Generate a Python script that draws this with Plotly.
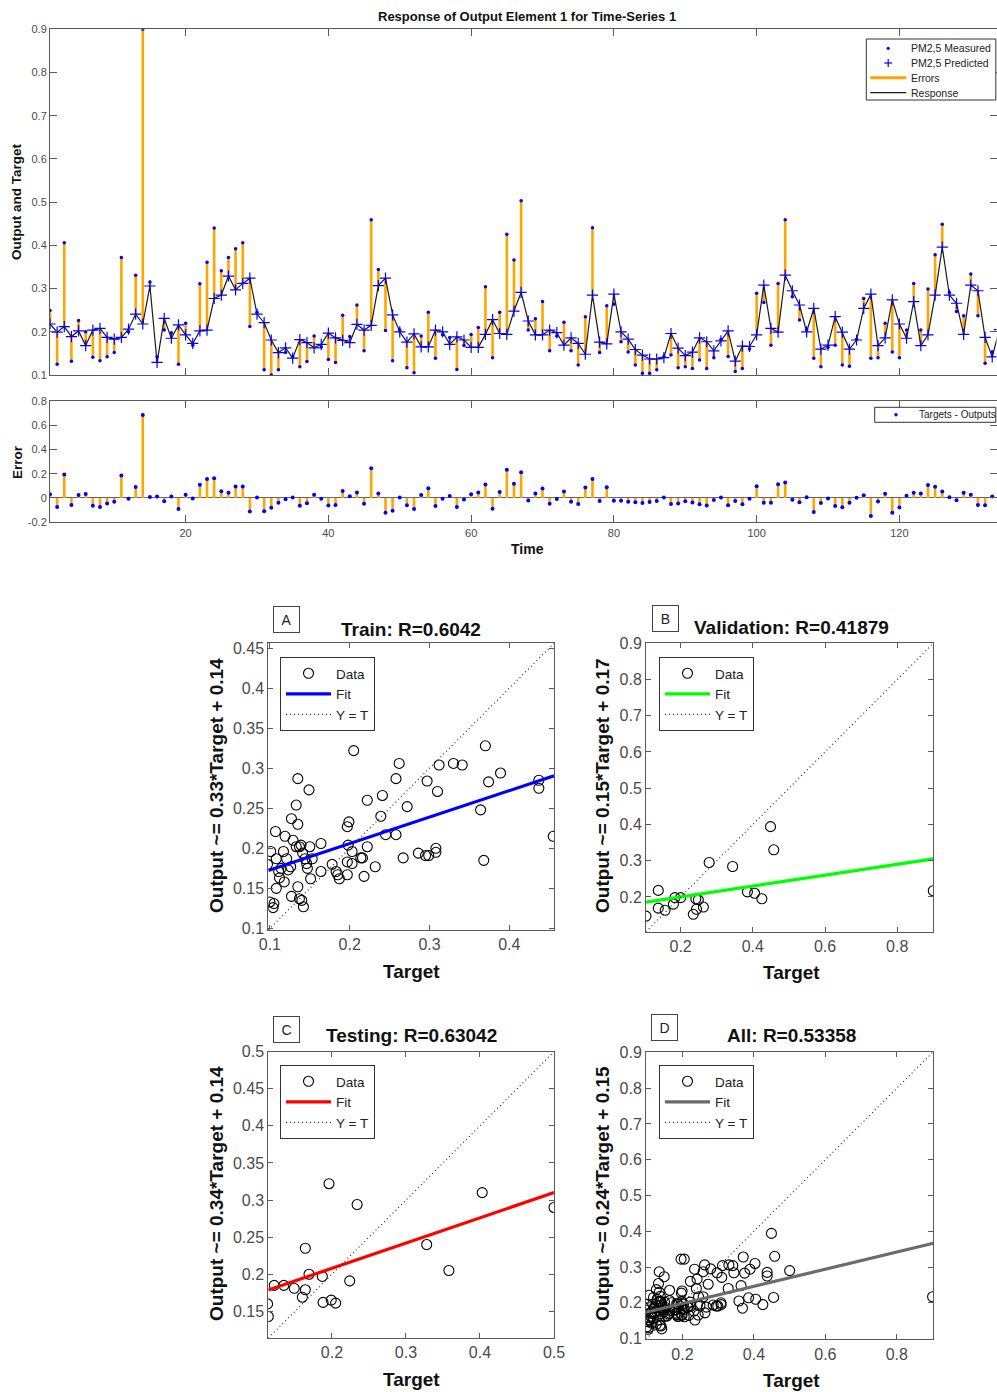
import plotly.graph_objects as go

W, H = 997, 1392

# ---------------- data ----------------
time = list(range(1, 135))
pm_predicted = [0.218, 0.199, 0.212, 0.189, 0.202, 0.168, 0.204, 0.208, 0.187, 0.183,
                0.187, 0.206, 0.241, 0.218, 0.306, 0.129, 0.231, 0.185, 0.216, 0.193,
                0.173, 0.202, 0.204, 0.277, 0.285, 0.329, 0.297, 0.312, 0.324, 0.241,
                0.221, 0.181, 0.152, 0.163, 0.139, 0.182, 0.175, 0.163, 0.171, 0.197,
                0.186, 0.180, 0.175, 0.217, 0.204, 0.215, 0.307, 0.324, 0.239, 0.200,
                0.176, 0.195, 0.165, 0.165, 0.204, 0.200, 0.171, 0.188, 0.181, 0.164,
                0.164, 0.194, 0.228, 0.196, 0.194, 0.248, 0.291, 0.225, 0.193, 0.193,
                0.204, 0.198, 0.169, 0.186, 0.173, 0.148, 0.285, 0.176, 0.172, 0.287,
                0.200, 0.183, 0.159, 0.146, 0.137, 0.137, 0.140, 0.196, 0.162, 0.145,
                0.153, 0.186, 0.177, 0.156, 0.179, 0.202, 0.132, 0.167, 0.166, 0.193,
                0.308, 0.208, 0.199, 0.331, 0.295, 0.262, 0.200, 0.254, 0.160, 0.169,
                0.235, 0.199, 0.160, 0.181, 0.254, 0.287, 0.168, 0.186, 0.274, 0.218,
                0.185, 0.270, 0.168, 0.193, 0.285, 0.396, 0.285, 0.266, 0.194, 0.308,
                0.295, 0.187, 0.142, 0.205]
pm_measured = [0.249, 0.125, 0.406, 0.132, 0.226, 0.200, 0.141, 0.133, 0.142, 0.152,
               0.372, 0.200, 0.331, 0.900, 0.315, 0.142, 0.204, 0.198, 0.125, 0.220,
               0.169, 0.311, 0.361, 0.440, 0.341, 0.372, 0.392, 0.406, 0.212, 0.245,
               0.112, 0.100, 0.112, 0.152, 0.143, 0.119, 0.131, 0.190, 0.165, 0.136,
               0.129, 0.238, 0.189, 0.262, 0.156, 0.459, 0.344, 0.203, 0.133, 0.204,
               0.117, 0.105, 0.190, 0.245, 0.139, 0.193, 0.187, 0.113, 0.168, 0.194,
               0.210, 0.304, 0.140, 0.245, 0.426, 0.366, 0.503, 0.204, 0.230, 0.270,
               0.156, 0.190, 0.222, 0.156, 0.123, 0.235, 0.441, 0.152, 0.260, 0.264,
               0.177, 0.153, 0.123, 0.104, 0.104, 0.112, 0.143, 0.146, 0.117, 0.119,
               0.115, 0.135, 0.115, 0.140, 0.182, 0.143, 0.108, 0.115, 0.160, 0.289,
               0.268, 0.169, 0.312, 0.459, 0.281, 0.227, 0.205, 0.139, 0.119, 0.164,
               0.169, 0.123, 0.120, 0.183, 0.277, 0.139, 0.140, 0.220, 0.153, 0.140,
               0.204, 0.312, 0.204, 0.299, 0.378, 0.449, 0.291, 0.247, 0.237, 0.334,
               0.237, 0.127, 0.154, 0.195]
errors = [m - p for m, p in zip(pm_measured, pm_predicted)]

train_target = [0.097, 0.101, 0.100, 0.105, 0.104, 0.107, 0.108, 0.108, 0.111, 0.112,
                0.114, 0.117, 0.118, 0.119, 0.121, 0.123, 0.126, 0.127, 0.127, 0.129,
                0.133, 0.135, 0.135, 0.133, 0.137, 0.139, 0.135, 0.137, 0.140, 0.142,
                0.141, 0.144, 0.146, 0.147, 0.149, 0.150, 0.151, 0.153, 0.164, 0.164,
                0.178, 0.183, 0.185, 0.187, 0.197, 0.199, 0.198, 0.197, 0.197, 0.203,
                0.203, 0.205, 0.214, 0.216, 0.218, 0.222, 0.222, 0.232, 0.239, 0.241,
                0.245, 0.258, 0.262, 0.258, 0.267, 0.272, 0.286, 0.297, 0.295, 0.299,
                0.308, 0.308, 0.310, 0.312, 0.330, 0.341, 0.364, 0.368, 0.370, 0.374,
                0.389, 0.437, 0.437, 0.455]
train_output = [0.180, 0.196, 0.133, 0.131, 0.126, 0.221, 0.187, 0.150, 0.171, 0.163,
                0.175, 0.196, 0.158, 0.215, 0.187, 0.173, 0.177, 0.237, 0.140, 0.210,
                0.254, 0.287, 0.230, 0.202, 0.202, 0.204, 0.152, 0.137, 0.135, 0.127,
                0.194, 0.187, 0.181, 0.175, 0.273, 0.202, 0.162, 0.187, 0.206, 0.171,
                0.180, 0.171, 0.167, 0.162, 0.227, 0.233, 0.204, 0.183, 0.167, 0.196,
                0.181, 0.322, 0.188, 0.188, 0.165, 0.260, 0.202, 0.177, 0.240, 0.266,
                0.217, 0.287, 0.306, 0.217, 0.188, 0.252, 0.194, 0.284, 0.191, 0.191,
                0.200, 0.195, 0.271, 0.304, 0.306, 0.304, 0.248, 0.185, 0.328, 0.283,
                0.294, 0.285, 0.275, 0.215]

val_target = [0.104, 0.138, 0.138, 0.157, 0.180, 0.184, 0.200, 0.235, 0.244, 0.242,
              0.249, 0.263, 0.279, 0.344, 0.385, 0.405, 0.425, 0.449, 0.458, 0.900]
val_output = [0.147, 0.218, 0.169, 0.163, 0.180, 0.198, 0.198, 0.152, 0.166, 0.195,
              0.192, 0.172, 0.295, 0.284, 0.214, 0.210, 0.195, 0.394, 0.330, 0.217]

test_target = [0.113, 0.114, 0.122, 0.135, 0.149, 0.160, 0.164, 0.164, 0.169, 0.187,
               0.188, 0.196, 0.199, 0.205, 0.224, 0.234, 0.328, 0.358, 0.403, 0.500]
test_output = [0.160, 0.143, 0.185, 0.185, 0.181, 0.169, 0.179, 0.235, 0.200, 0.197,
               0.162, 0.322, 0.165, 0.161, 0.191, 0.294, 0.240, 0.205, 0.310, 0.290]

all_target = train_target + val_target + test_target
all_output = train_output + val_output + test_output

panel_names = ["Train", "Validation", "Testing", "All"]
panel_r = ["0.6042", "0.41879", "0.63042", "0.53358"]
fit_slope = [0.33, 0.15, 0.34, 0.24]
fit_intercept = [0.14, 0.17, 0.14, 0.15]
panel_letters = ["A", "B", "C", "D"]
panel_limits = [[0.098, 0.456], [0.104, 0.900], [0.114, 0.500], [0.098, 0.902]]
panel_xticks = [[0.1, 0.2, 0.3, 0.4], [0.2, 0.4, 0.6, 0.8], [0.2, 0.3, 0.4, 0.5], [0.2, 0.4, 0.6, 0.8]]
panel_yticks = [[0.1, 0.15, 0.2, 0.25, 0.3, 0.35, 0.4, 0.45],
                [0.2, 0.3, 0.4, 0.5, 0.6, 0.7, 0.8, 0.9],
                [0.15, 0.2, 0.25, 0.3, 0.35, 0.4, 0.45, 0.5],
                [0.1, 0.2, 0.3, 0.4, 0.5, 0.6, 0.7, 0.8, 0.9]]
panel_data = [(train_target, train_output), (val_target, val_output),
              (test_target, test_output), (all_target, all_output)]
fit_colors = ["#0000FF", "#00FF00", "#FF0000", "#6b6b6b"]

response_legend_labels = ["PM2,5 Measured", "PM2,5 Predicted", "Errors", "Response"]
error_legend_label = "Targets - Outputs"

err_ticks = [-0.2, 0, 0.2, 0.4, 0.6, 0.8]
err_ticktext = ["-0.2", "0", "0.2", "0.4", "0.6", "0.8"]

# ---------------- helpers ----------------
FONT = "Liberation Sans, Arial, Helvetica, sans-serif"
AX = "#5a5a5a"
TXT = "#4a4a4a"
ORANGE = "#FFA500"
BLUE = "#0000FF"


def pxx(x):
    return x / W


def pxy(y):
    return 1 - y / H


def fmt(v):
    s = ("%.2f" % v).rstrip("0").rstrip(".")
    return s


fig = go.Figure()

# ---------------- top response chart ----------------
ex, ey = [], []
for t, p, m in zip(time, pm_predicted, pm_measured):
    ex += [t, t, None]
    ey += [p, m, None]
fig.add_trace(go.Scatter(x=ex, y=ey, mode="lines", line=dict(color=ORANGE, width=2.6),
                         name="Errors", showlegend=False, xaxis="x", yaxis="y"))
fig.add_trace(go.Scatter(x=time, y=pm_predicted, mode="lines", line=dict(color="#1a1a1a", width=1.2),
                         name="Response", showlegend=False, xaxis="x", yaxis="y"))
fig.add_trace(go.Scatter(x=time, y=pm_predicted, mode="markers",
                         marker=dict(symbol="cross-thin-open", size=8, color=BLUE,
                                     line=dict(color=BLUE, width=1.2)),
                         name="PM2,5 Predicted", showlegend=False, xaxis="x", yaxis="y"))
fig.add_trace(go.Scatter(x=time, y=pm_measured, mode="markers",
                         marker=dict(symbol="circle", size=3.5, color=BLUE),
                         name="PM2,5 Measured", showlegend=False, xaxis="x", yaxis="y"))

# ---------------- error chart ----------------
sx, sy = [], []
for t, e in zip(time, errors):
    sx += [t, t, None]
    sy += [0, e, None]
fig.add_trace(go.Scatter(x=sx, y=sy, mode="lines", line=dict(color=ORANGE, width=2.6),
                         showlegend=False, xaxis="x2", yaxis="y2"))
fig.add_trace(go.Scatter(x=time, y=errors, mode="markers",
                         marker=dict(symbol="circle", size=4, color=BLUE),
                         name="Targets - Outputs", showlegend=False, xaxis="x2", yaxis="y2"))

# ---------------- regression panels ----------------
for i in range(4):
    ax = str(i + 3)
    tx, ty = panel_data[i]
    lo, hi = panel_limits[i]
    lg = "legend" + str(i + 3)
    fig.add_trace(go.Scatter(x=tx, y=ty, mode="markers",
                             marker=dict(symbol="circle-open", size=10, color="#000000",
                                         line=dict(color="#000000", width=1.1)),
                             name="Data", legend=lg, xaxis="x" + ax, yaxis="y" + ax))
    fig.add_trace(go.Scatter(x=[lo, hi], y=[fit_slope[i] * lo + fit_intercept[i], fit_slope[i] * hi + fit_intercept[i]],
                             mode="lines", line=dict(color=fit_colors[i], width=3.2),
                             name="Fit", legend=lg, xaxis="x" + ax, yaxis="y" + ax))
    fig.add_trace(go.Scatter(x=[lo, hi], y=[lo, hi], mode="lines",
                             line=dict(color="#222222", width=1.1, dash="1px,3px"),
                             name="Y = T", legend=lg, xaxis="x" + ax, yaxis="y" + ax))

# ---------------- axes ----------------
common = dict(showline=True, linecolor=AX, linewidth=1, mirror="ticks", ticks="inside",
              tickcolor=AX, showgrid=False, zeroline=False, automargin=False,
              tickfont=dict(family=FONT, color=TXT, size=11))

layout = dict(
    width=W, height=H, autosize=False,
    margin=dict(l=0, r=0, t=0, b=0, pad=0, autoexpand=False),
    paper_bgcolor="white", plot_bgcolor="white",
    font=dict(family=FONT, color="#222"),
)

layout["xaxis"] = dict(common, domain=[pxx(50), pxx(996.5)], range=[1, 133.6], anchor="y",
                       tickvals=[20, 40, 60, 80, 100, 120], showticklabels=False, ticklen=7)
layout["yaxis"] = dict(common, domain=[pxy(375), pxy(29.3)], range=[0.1, 0.9], anchor="x",
                       tickvals=[0.1, 0.2, 0.3, 0.4, 0.5, 0.6, 0.7, 0.8, 0.9],
                       ticktext=[fmt(v) for v in [0.1, 0.2, 0.3, 0.4, 0.5, 0.6, 0.7, 0.8, 0.9]], ticklen=7)
layout["xaxis2"] = dict(common, domain=[pxx(50), pxx(996.5)], range=[1, 133.6], anchor="y2",
                        tickvals=[20, 40, 60, 80, 100, 120], ticklen=7)
layout["yaxis2"] = dict(common, domain=[pxy(522.3), pxy(400.7)], range=[-0.2, 0.8], anchor="x2",
                        tickvals=err_ticks, ticktext=err_ticktext, ticklen=7,
                        zeroline=True, zerolinecolor="#666666", zerolinewidth=1)

panel_boxes = [(268.3, 554, 643.3, 930), (646, 933.3, 643.3, 931.7),
               (268.3, 554, 1051.7, 1338), (646, 933.3, 1051.7, 1339.3)]
for i in range(4):
    ax = str(i + 3)
    l, r, t, b = panel_boxes[i]
    lo, hi = panel_limits[i]
    pc = dict(common, tickfont=dict(family=FONT, color=TXT, size=16), ticklen=5)
    layout["xaxis" + ax] = dict(pc, domain=[pxx(l), pxx(r)], range=[lo, hi], anchor="y" + ax,
                                tickvals=panel_xticks[i], ticktext=[fmt(v) for v in panel_xticks[i]])
    layout["yaxis" + ax] = dict(pc, domain=[pxy(b), pxy(t)], range=[lo, hi], anchor="x" + ax,
                                tickvals=panel_yticks[i], ticktext=[fmt(v) for v in panel_yticks[i]])

# ---------------- legends (regression panels) ----------------
leg_common = dict(bgcolor="white", bordercolor="#333333", borderwidth=1, tracegroupgap=0,
                  traceorder="normal")
leg_pos = [(280, 657), (659, 657), (280, 1065), (659, 1065)]
for i in range(4):
    layout["legend" + str(i + 3)] = dict(leg_common, x=pxx(leg_pos[i][0]), y=pxy(leg_pos[i][1]),
                                         xanchor="left", yanchor="top",
                                         font=dict(family=FONT, size=13.5, color="#222"), itemwidth=45)

# ---------------- compact legend boxes (response + error charts) ----------------
shapes = []
ann = []


def pline(x0, y0, x1, y1, color, width):
    shapes.append(dict(type="line", xref="paper", yref="paper", x0=pxx(x0), x1=pxx(x1),
                       y0=pxy(y0), y1=pxy(y1), line=dict(color=color, width=width)))


def pdot(x, y, r, color):
    shapes.append(dict(type="circle", xref="paper", yref="paper", x0=pxx(x - r), x1=pxx(x + r),
                       y0=pxy(y + r), y1=pxy(y - r), fillcolor=color, line=dict(width=0)))


def prect(x0, y0, x1, y1):
    shapes.append(dict(type="rect", xref="paper", yref="paper", x0=pxx(x0), x1=pxx(x1),
                       y0=pxy(y1), y1=pxy(y0), fillcolor="white", line=dict(color="#333333", width=1)))


def ltext(x, y, s, size):
    ann.append(dict(x=pxx(x), y=pxy(y), xref="paper", yref="paper", showarrow=False, text=s,
                    xanchor="left", yanchor="middle", font=dict(family=FONT, size=size, color="#222")))


prect(866.3, 39, 995.8, 100)
rows = [48.3, 63, 77.7, 92.7]
pdot(888.2, rows[0], 1.6, BLUE)
pline(884.2, rows[1], 892.2, rows[1], BLUE, 1.2)
pline(888.2, rows[1] - 4, 888.2, rows[1] + 4, BLUE, 1.2)
pline(870.3, rows[2], 906.3, rows[2], ORANGE, 3)
pline(870.3, rows[3], 906.3, rows[3], "#1a1a1a", 1.2)
for lab, ry in zip(response_legend_labels, rows):
    ltext(908.5, ry, lab, 10.5)

prect(874.7, 407.3, 995.8, 422.3)
pdot(896, 414.8, 1.7, BLUE)
ltext(916.5, 414.8, error_legend_label, 10)

# ---------------- annotations ----------------


def text(x, y, s, size, bold=False, angle=0, color="#111"):
    ann.append(dict(x=pxx(x), y=pxy(y), xref="paper", yref="paper", showarrow=False,
                    text=("<b>%s</b>" % s) if bold else s, textangle=angle,
                    xanchor="center", yanchor="middle",
                    font=dict(family=FONT, size=size, color=color)))


text(527, 17, "Response of Output Element 1 for Time-Series 1", 13, bold=True)
text(16, 202, "Output and Target", 13.5, bold=True, angle=-90)
text(18, 462, "Error", 13.5, bold=True, angle=-90)
text(527, 549, "Time", 14, bold=True)

title_pos = [(411, 629), (791, 628), (411, 1035), (791, 1035)]
ylab_pos = [(216, 786), (602, 786), (216, 1194), (602, 1194)]
xlab_pos = [(411, 971), (791, 972), (411, 1379), (791, 1380)]
letter_pos = [(286, 619.5), (665, 618.5), (286, 1029), (664, 1027.5)]
for i in range(4):
    text(title_pos[i][0], title_pos[i][1], "%s: R=%s" % (panel_names[i], panel_r[i]), 19, bold=True)
    text(ylab_pos[i][0], ylab_pos[i][1],
         "Output ~= %s*Target + %s" % (fmt(fit_slope[i]), fmt(fit_intercept[i])), 19, bold=True, angle=-90)
    text(xlab_pos[i][0], xlab_pos[i][1], "Target", 19, bold=True)
    ann.append(dict(x=pxx(letter_pos[i][0]), y=pxy(letter_pos[i][1]), xref="paper", yref="paper",
                    showarrow=False, text=panel_letters[i], width=21, height=21,
                    bordercolor="#444444", borderwidth=1, borderpad=2, bgcolor="white",
                    xanchor="center", yanchor="middle",
                    font=dict(family=FONT, size=14, color="#222")))

layout["annotations"] = ann
layout["shapes"] = shapes
fig.update_layout(**layout)

fig.write_html("out.html", config={"displayModeBar": False},
               post_script="document.body.style.margin='0px';document.body.style.overflow='hidden';")
